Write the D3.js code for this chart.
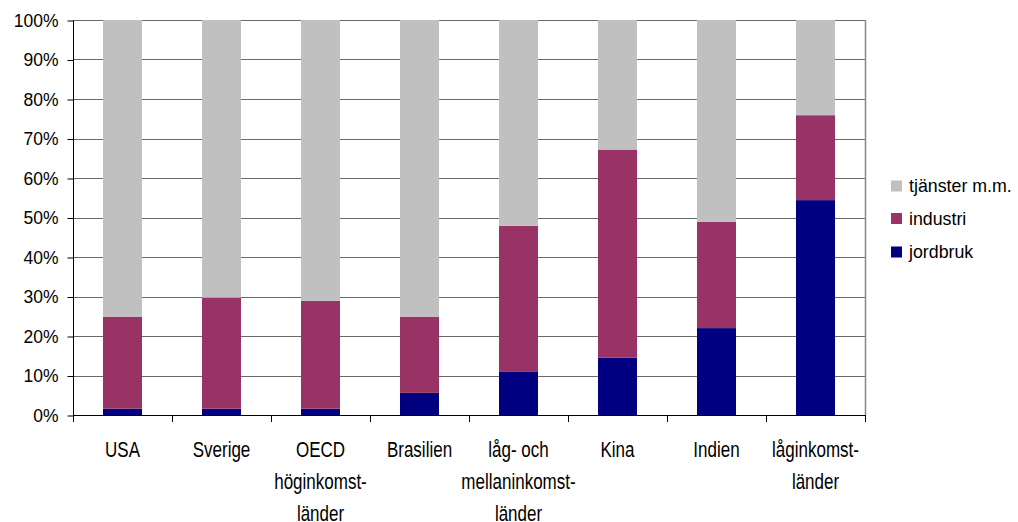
<!DOCTYPE html>
<html>
<head>
<meta charset="utf-8">
<script src="https://cdn.jsdelivr.net/npm/d3@7"></script>
<style>
  body { margin: 0; background: #fff; }
  svg text { font-family: "Liberation Sans", Arial, sans-serif; fill: #000; }
</style>
</head>
<body>
<svg id="chart" width="1018" height="522"></svg>
<script>
// Sectoral shares of output (%), bottom to top: jordbruk, industri, tjänster m.m.
const categories = ["USA", "Sverige", "OECD höginkomstländer", "Brasilien",
  "låg- och mellaninkomstländer", "Kina", "Indien", "låginkomstländer"];
const categoryLines = [
  ["USA"], ["Sverige"], ["OECD", "höginkomst-", "länder"], ["Brasilien"],
  ["låg- och", "mellaninkomst-", "länder"], ["Kina"], ["Indien"], ["låginkomst-", "länder"]
];
const jordbruk = [1.6, 1.6, 1.6, 5.6, 10.9, 14.5, 22.0, 54.4];
const industri = [23.3, 28.1, 27.3, 19.3, 37.0, 52.7, 26.9, 21.5];
const tjanster = [75.1, 70.3, 71.1, 75.1, 52.1, 32.8, 51.1, 24.1];
const seriesNames = ["jordbruk", "industri", "tjänster m.m."];
const seriesColors = ["#000080", "#993366", "#C0C0C0"];
const yTicks = [0, 10, 20, 30, 40, 50, 60, 70, 80, 90, 100];

const rows = categories.map((c, i) => ({
  cat: c, jordbruk: jordbruk[i], industri: industri[i], "tjänster m.m.": tjanster[i]
}));

const svg = d3.select("#chart");
const plotLeft = 73, plotRight = 865, plotTop = 20, plotBottom = 415;

const x = d3.scaleBand().domain(categories).range([plotLeft, plotRight])
  .paddingInner(0.606).paddingOuter(0.303);
const y = d3.scaleLinear().domain([0, 100]).range([plotBottom, plotTop]);
const color = d3.scaleOrdinal().domain(seriesNames).range(seriesColors);

// Horizontal gridlines
svg.append("g").selectAll("line").data(yTicks.slice(1)).join("line")
  .attr("x1", plotLeft).attr("x2", plotRight)
  .attr("y1", d => Math.round(y(d)) + 0.5).attr("y2", d => Math.round(y(d)) + 0.5)
  .attr("stroke", "#6a6a6a").attr("stroke-width", 1.2);

// Right border of plot area
svg.append("line").attr("x1", plotRight + 0.5).attr("x2", plotRight + 0.5)
  .attr("y1", plotTop).attr("y2", plotBottom).attr("stroke", "#888").attr("stroke-width", 1.5);

// Stacked bars
const stacked = d3.stack().keys(seriesNames)(rows);
svg.append("g").selectAll("g").data(stacked).join("g")
  .attr("fill", d => color(d.key))
  .selectAll("rect").data(d => d).join("rect")
  .attr("x", d => x(d.data.cat))
  .attr("width", x.bandwidth())
  .attr("y", d => y(d[1]))
  .attr("height", d => y(d[0]) - y(d[1]));

// Y axis
const yAxis = d3.axisLeft(y).tickValues(yTicks).tickFormat(d => d + "%").tickSize(6).tickPadding(9);
const ya = svg.append("g").attr("transform", `translate(${plotLeft + 0.5},0.5)`).call(yAxis);
ya.select(".domain").attr("stroke", "#000").attr("d", `M0,${plotTop}V${plotBottom}`);
ya.selectAll(".tick line").attr("stroke", "#000");
ya.selectAll(".tick text").attr("font-size", "17.5px").attr("font-family", "Liberation Sans, Arial, sans-serif");

// X axis: baseline plus tick marks at category boundaries
const boundaries = d3.range(categories.length + 1).map(i => plotLeft + i * x.step());
svg.append("line").attr("x1", plotLeft).attr("x2", plotRight)
  .attr("y1", plotBottom + 0.5).attr("y2", plotBottom + 0.5).attr("stroke", "#000");
svg.append("g").selectAll("line").data(boundaries).join("line")
  .attr("x1", d => Math.round(d) + 0.5).attr("x2", d => Math.round(d) + 0.5)
  .attr("y1", plotBottom).attr("y2", plotBottom + 7).attr("stroke", "#000");

// Category labels (multi-line, tall narrow type)
const baselines = [457, 489, 520.5];
const labels = svg.append("g");
categories.forEach((c, i) => {
  const cx = x(c) + x.bandwidth() / 2;
  categoryLines[i].forEach((line, j) => {
    labels.append("text")
      .attr("transform", `translate(${cx},${baselines[j]}) scale(1,1.26)`)
      .attr("text-anchor", "middle")
      .attr("font-size", "17px")
      .text(line);
  });
});

// Legend (top to bottom: tjänster, industri, jordbruk)
const legendItems = seriesNames.slice().reverse();
const legendY = [186, 218.5, 252];
const lg = svg.append("g");
legendItems.forEach((name, i) => {
  lg.append("rect").attr("x", 891).attr("y", legendY[i] - 5.5)
    .attr("width", 11).attr("height", 11).attr("fill", color(name));
  lg.append("text").attr("x", 909).attr("y", legendY[i] + 6)
    .attr("font-size", "17.8px").text(name);
});
</script>
</body>
</html>
